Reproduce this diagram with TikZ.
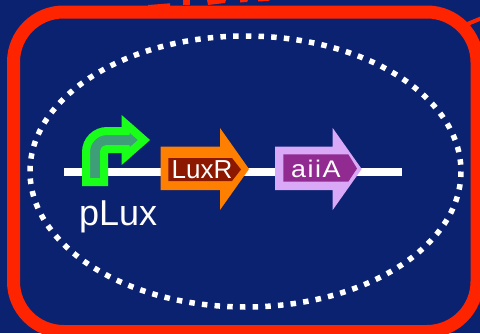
\documentclass[tikz,border=0pt]{standalone}
\usepackage{fontspec}
\setmainfont{Liberation Sans}
\definecolor{navy}{HTML}{0B2270}
\definecolor{framered}{HTML}{FF2400}
\definecolor{promgreen}{HTML}{1AFF1A}
\definecolor{promfill}{HTML}{3E9E78}
\definecolor{luxorange}{HTML}{FF7F00}
\definecolor{luxdark}{HTML}{8C1800}
\definecolor{aiilight}{HTML}{D9A8F7}
\definecolor{aiidark}{HTML}{922B91}
\tikzset{
  label text/.style={text=white, inner sep=0pt, outer sep=0pt},
}
\begin{document}
\begin{tikzpicture}[x=1pt,y=-1pt]
% background and page size
\fill[navy] (0,0) rectangle (480,333);
\useasboundingbox (0,0) rectangle (480,333);

% cell frame
\draw[framered, line width=13pt, rounded corners=50pt] (13.5,12) rectangle (477,331.5);

% red fragments along the top edge
\fill[framered] (148,5) -- (170,3.3) -- (170,6) -- (148,6.6) -- cycle;
\fill[framered] (183,0) -- (190,0) -- (190,5) -- (183,5) -- cycle;
\fill[framered] (207,0) -- (226,0) -- (225,3) -- (208,5) -- cycle;
\fill[framered] (240,0) -- (248,0) -- (247,2) -- (240,2.5) -- cycle;
\fill[framered] (258,0) -- (270,0) -- (268,1) -- (258,1.5) -- cycle;
\draw[framered, line width=4pt] (465,25) -- (482,18);

% dotted plasmid outline
\draw[white, line width=5.5pt, dash pattern=on 5.5pt off 7.2pt]
  (245.5,171.5) ellipse [x radius=215.5, y radius=135.5];

% DNA strand
\coordinate (dnaL) at (64,172);
\coordinate (dnaR) at (401.7,172);
\draw[white, line width=8pt] (dnaL) -- (dnaR);

% promoter (bent arrow)
\filldraw[draw=promgreen, fill=promfill, line width=8pt, line join=miter]
  (86,182) -- (86,152) .. controls (86,140.4) and (95.4,131) .. (107,131)
  -- (125.7,131) -- (125.7,123.9) -- (144,140) -- (125.7,156.1) -- (125.7,149)
  -- (107,149) .. controls (105.3,149) and (104,150.3) .. (104,152)
  -- (104,182) -- cycle;

% LuxR gene
\fill[luxorange] (160.7,146.7) -- (220,146.7) -- (220,128) -- (249,169)
  -- (220,210) -- (220,190) -- (160.7,190) -- cycle;
\fill[luxdark] (168.3,158) -- (232,158) -- (241,169.5) -- (232,181)
  -- (168.3,181) -- cycle;
\node[label text, anchor=base, font=\fontsize{26}{26}\selectfont] (luxr) at (202,178.3) {LuxR};

% aiiA gene
\fill[aiilight] (275,146.7) -- (332.7,146.7) -- (332.7,128) -- (361.7,169)
  -- (332.7,210) -- (332.7,190) -- (275,190) -- cycle;
\fill[aiidark] (283.3,154.3) -- (348.3,154.3) -- (357,168.5) -- (348.3,181.7)
  -- (283.3,181.7) -- cycle;
\node[label text, anchor=base west, font=\fontsize{24}{24}\selectfont\addfontfeature{LetterSpace=6}] (aiia) at (291,177.5)
  {\scalebox{1.12}[1]{aiiA}};

% promoter label
\node[label text, anchor=base west, font=\fontsize{36}{36}\selectfont] (plux) at (79,225) {pLux};
\end{tikzpicture}
\end{document}
